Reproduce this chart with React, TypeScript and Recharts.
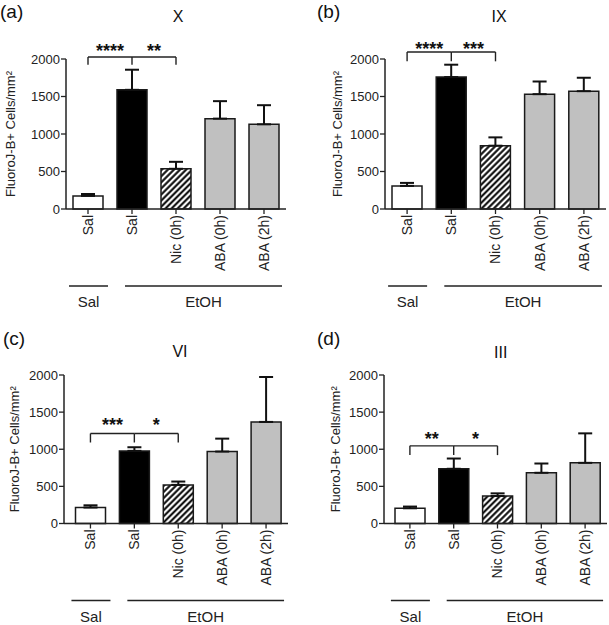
import React from "react";
import { BarChart, Bar, XAxis, YAxis, ErrorBar, Cell, ReferenceLine, Label } from "recharts";

// x categories (same in every panel)
const categories = ["Sal", "Sal", "Nic (0h)", "ABA (0h)", "ABA (2h)"];
const keys = ["c0", "c1", "c2", "c3", "c4"];
const yTicks = [0, 500, 1000, 1500, 2000];

// FluoroJ-B+ cells / mm2, mean and SEM per region
const meansX = [175, 1589, 536, 1205, 1129];
const semX = [25, 268, 93, 233, 255];
const meansIX = [308, 1759, 844, 1531, 1571];
const semIX = [40, 165, 111, 169, 179];
const meansVI = [215, 978, 520, 969, 1368];
const semVI = [30, 49, 45, 174, 605];
const meansIII = [205, 737, 370, 683, 817];
const semIII = [23, 138, 36, 125, 397];

// significance brackets: stars, and [top, foot] heights in data units
const starsX = ["****", "**"];
const starsIX = ["****", "***"];
const starsVI = ["***", "*"];
const starsIII = ["**", "*"];
const bracketX = [2027, 1925];
const bracketIX = [2093, 1969];
const bracketVI = [1212, 1091];
const bracketIII = [1046, 921];

const FONT = '"Liberation Sans", Arial, sans-serif';
const INK = "#222";

type PanelProps = {
  id: string;
  tag: string;
  title: string;
  means: number[];
  sem: number[];
  stars: string[];
  bracket: number[];
  starDy: number;
  left: number;
  top: number;
  width: number;
  height: number;
  plotLeft: number;
  plotTop: number;
  plotHeight: number;
  plotWidth: number;
  padLeft: number;
  yLabelX: number;
  titleX: number;
  titleY: number;
  tagX: number;
  tagY: number;
};

const makeTick = (band: number) => (props: any) => {
  const { x, y, index } = props;
  return (
    <g>
      <text
        x={x}
        y={y}
        transform={`rotate(-90 ${x} ${y})`}
        textAnchor="end"
        dy="0.35em"
        fontSize={14}
        fill={INK}
      >
        {categories[index]}
      </text>
      {index === 0 && (
        <g>
          <line x1={x - 19} x2={x + 20} y1={y + 71} y2={y + 71} stroke={INK} strokeWidth={1.3} />
          <text x={x + 0.5} y={y + 92} textAnchor="middle" fontSize={15} fill={INK}>
            Sal
          </text>
        </g>
      )}
      {index === 1 && (
        <g>
          <line x1={x - 7} x2={x + 3 * band + 18} y1={y + 71} y2={y + 71} stroke={INK} strokeWidth={1.3} />
          <text x={x + (3 * band + 11) / 2} y={y + 92} textAnchor="middle" fontSize={15} fill={INK}>
            EtOH
          </text>
        </g>
      )}
    </g>
  );
};

const Panel = (p: PanelProps) => {
  const data = keys.map((k, i) => ({ k, mean: p.means[i], err: [0, p.sem[i]] }));
  const fills = ["#ffffff", "#000000", `url(#hatch-${p.id})`, "#c0c0c0", "#c0c0c0"];
  const band = (p.plotWidth - p.padLeft) / keys.length;
  const [top, foot] = p.bracket;
  const starLabel = (s: string) => (lp: any) => {
    const vb = lp.viewBox || {};
    return (
      <text
        x={vb.x + vb.width / 2}
        y={vb.y + p.starDy}
        textAnchor="middle"
        fontSize={18}
        fontWeight="bold"
        fill="#111"
      >
        {s}
      </text>
    );
  };
  const seg = (a: string, b: string, ya: number, yb: number) => [
    { x: a, y: ya },
    { x: b, y: yb },
  ];
  const lineProps = { stroke: INK, strokeWidth: 1.4, ifOverflow: "visible" as const };

  return (
    <div style={{ position: "absolute", left: p.left, top: p.top, width: p.width, height: p.height }}>
      <BarChart
        width={p.width}
        height={p.height}
        data={data}
        margin={{ top: p.plotTop, right: p.width - p.plotLeft - p.plotWidth, left: 0, bottom: 0 }}
      >
        <defs>
          <pattern
            id={`hatch-${p.id}`}
            patternUnits="userSpaceOnUse"
            width={4.3}
            height={4.3}
            patternTransform="rotate(45)"
          >
            <rect width={4.3} height={4.3} fill="#fff" />
            <line x1={2.15} y1={0} x2={2.15} y2={4.3} stroke="#000" strokeWidth={2} />
          </pattern>
        </defs>
        <XAxis
          dataKey="k"
          type="category"
          height={p.height - p.plotTop - p.plotHeight}
          padding={{ left: p.padLeft, right: 0 }}
          axisLine={{ stroke: INK, strokeWidth: 1.5 }}
          tickLine={{ stroke: INK, strokeWidth: 1.3 }}
          tickSize={5}
          tickMargin={1}
          interval={0}
          tick={makeTick(band)}
        />
        <YAxis
          width={p.plotLeft}
          domain={[0, 2000]}
          ticks={yTicks}
          interval={0}
          axisLine={{ stroke: INK, strokeWidth: 1.5 }}
          tickLine={{ stroke: INK, strokeWidth: 1.3 }}
          tickSize={5}
          tickMargin={1}
          tick={{ fill: INK, fontSize: 13 }}
        />
        <Bar dataKey="mean" barSize={30} stroke="#1a1a1a" strokeWidth={1.5} isAnimationActive={false}>
          {data.map((d, i) => (
            <Cell key={d.k} fill={fills[i]} />
          ))}
          <ErrorBar dataKey="err" direction="y" width={7} stroke="#111" strokeWidth={2} isAnimationActive={false} />
        </Bar>
        {[0, 1].map((b) => (
          <ReferenceLine
            key={`h${b}`}
            segment={seg(keys[b], keys[b + 1], top, top)}
            {...lineProps}
          >
            <Label content={starLabel(p.stars[b])} />
          </ReferenceLine>
        ))}
        {[0, 1, 2].map((c) => (
          <ReferenceLine key={`v${c}`} segment={seg(keys[c], keys[c], top, foot)} {...lineProps} />
        ))}
      </BarChart>
      <svg
        width={p.width}
        height={p.height}
        style={{ position: "absolute", left: 0, top: 0, pointerEvents: "none" }}
      >
        <text x={p.tagX} y={p.tagY} fontSize={19} fill="#111">
          {p.tag}
        </text>
        <text x={p.titleX} y={p.titleY} fontSize={16} textAnchor="middle" fill="#111">
          {p.title}
        </text>
        <text
          x={p.yLabelX}
          y={p.plotTop + p.plotHeight / 2}
          transform={`rotate(-90 ${p.yLabelX} ${p.plotTop + p.plotHeight / 2})`}
          textAnchor="middle"
          dy="0.35em"
          fontSize={13}
          fill={INK}
        >
          FluoroJ-B+ Cells/mm²
        </text>
      </svg>
    </div>
  );
};

export default function App() {
  return (
    <div
      style={{
        position: "absolute",
        left: 0,
        top: 0,
        width: 609,
        height: 625,
        background: "#fff",
        fontFamily: FONT,
      }}
    >
      <Panel
        id="a" tag="(a)" title="X" means={meansX} sem={semX} stars={starsX} bracket={bracketX} starDy={0.4}
        left={0} top={0} width={304} height={312}
        plotLeft={66} plotTop={59} plotHeight={150} plotWidth={220} padLeft={0}
        yLabelX={10.5} titleX={178} titleY={21.5} tagX={0} tagY={17.5}
      />
      <Panel
        id="b" tag="(b)" title="IX" means={meansIX} sem={semIX} stars={starsIX} bracket={bracketIX} starDy={3}
        left={304} top={0} width={305} height={312}
        plotLeft={81} plotTop={59} plotHeight={150} plotWidth={221} padLeft={0}
        yLabelX={33} titleX={195} titleY={21.7} tagX={13} tagY={17.5}
      />
      <Panel
        id="c" tag="(c)" title="VI" means={meansVI} sem={semVI} stars={starsVI} bracket={bracketVI} starDy={-2.9}
        left={0} top={312} width={304} height={313}
        plotLeft={64} plotTop={63} plotHeight={148.5} plotWidth={224} padLeft={4.5}
        yLabelX={14} titleX={180} titleY={45} tagX={3} tagY={33}
      />
      <Panel
        id="d" tag="(d)" title="III" means={meansIII} sem={semIII} stars={starsIII} bracket={bracketIII} starDy={-1.3}
        left={304} top={312} width={305} height={313}
        plotLeft={80} plotTop={63} plotHeight={148.5} plotWidth={223} padLeft={4}
        yLabelX={31} titleX={196.7} titleY={46} tagX={13} tagY={33}
      />
    </div>
  );
}
